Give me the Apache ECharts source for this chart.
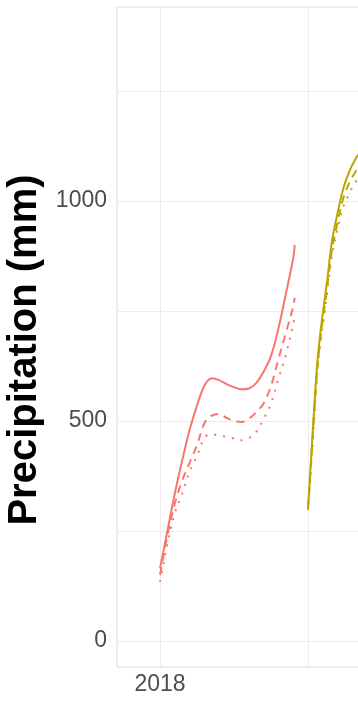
<!DOCTYPE html>
<html>
<head>
<meta charset="utf-8">
<style>
  html, body { margin: 0; padding: 0; background: #ffffff; }
  #chart { width: 358px; height: 707px; }
</style>
<script src="https://cdn.jsdelivr.net/npm/echarts@6/dist/echarts.min.js"></script>
</head>
<body>
<div id="chart"></div>
<script>
// ---- data ----
const x2018 = [2018.0, 2018.05, 2018.1, 2018.15, 2018.2, 2018.25, 2018.3, 2018.35, 2018.4, 2018.45,
               2018.5, 2018.55, 2018.6, 2018.65, 2018.7, 2018.75, 2018.8, 2018.85, 2018.9, 2018.91];
const solid2018  = [165, 250, 335, 410, 480, 535, 580, 597, 593, 584, 577, 572, 574, 586, 612, 648, 710, 788, 870, 900];
const dashed2018 = [150, 240, 312, 365, 405, 445, 495, 512, 516, 507, 500, 498, 505, 520, 540, 580, 640, 700, 760, 780];
const dotted2018 = [135, 220, 290, 335, 385, 420, 462, 470, 467, 464, 460, 456, 461, 475, 505, 540, 595, 650, 720, 735];

const x2019 = [2019.0, 2019.02, 2019.04, 2019.06, 2019.08, 2019.1, 2019.13, 2019.16, 2019.2, 2019.24, 2019.28, 2019.32, 2019.36, 2019.45];
const solid2019  = [302, 410, 520, 620, 690, 745, 820, 905, 973, 1030, 1068, 1095, 1115, 1150];
const dashed2019 = [300, 400, 508, 607, 677, 730, 805, 885, 952, 1008, 1042, 1066, 1086, 1120];
const dotted2019 = [298, 392, 497, 596, 666, 718, 793, 872, 938, 988, 1018, 1042, 1062, 1095];

const yTickLabels = [0, 500, 1000];
const yGridValues = [0, 250, 500, 750, 1000, 1250];
const xTickLabels = [2018];
const xGridValues = [2018, 2019, 2020];

const yTitle = 'Precipitation (mm)';

const RED = '#F8766D';
const YEL = '#BBA600';

function pairs(xs, ys) { return xs.map((x, i) => [x, ys[i]]); }

const chart = echarts.init(document.getElementById('chart'), null, { renderer: 'canvas' });

const pxPerYear = 148, pxPerUnit = 0.44;
const gridLeft = 117, gridTop = 7, gridH = 660, gridW = 400;
const xMin = 2018 - (160 - gridLeft) / pxPerYear;
const xMax = xMin + gridW / pxPerYear;
const yZeroPx = 641;
const yMin = -(gridTop + gridH - yZeroPx) / pxPerUnit;
const yMax = (yZeroPx - gridTop) / pxPerUnit;

function line(name, data, color, type, width) {
  return {
    name, type: 'line', data, smooth: 0.35, showSymbol: false, symbol: 'none',
    lineStyle: { color, width, type },
    itemStyle: { color },
    emphasis: { disabled: true }, silent: true, animation: false
  };
}

chart.setOption({
  animation: false,
  backgroundColor: '#ffffff',
  textStyle: { fontFamily: 'Liberation Sans, Arial, sans-serif' },
  grid: {
    left: gridLeft, top: gridTop, width: gridW, height: gridH,
    show: true, borderColor: '#dcdcdc', borderWidth: 1, backgroundColor: 'transparent',
    containLabel: false, outerBoundsMode: 'none'
  },
  xAxis: {
    type: 'value', min: xMin, max: xMax,
    axisLine: { show: false },
    axisTick: { show: false, customValues: xGridValues },
    axisLabel: {
      customValues: xTickLabels, color: '#4d4d4d', fontSize: 23, margin: 6,
      fontFamily: 'Liberation Sans, Arial, sans-serif',
      formatter: v => String(Math.round(v))
    },
    splitLine: { show: true, lineStyle: { color: '#ececec', width: 1 } }
  },
  yAxis: {
    type: 'value', min: yMin, max: yMax,
    name: yTitle, nameLocation: 'middle', nameGap: 72,
    nameTextStyle: {
      fontSize: 40, fontWeight: 'bold', color: '#000000',
      fontFamily: 'Liberation Sans, Arial, sans-serif',
      padding: [0, 26, 0, 0]
    },
    axisLine: { show: false },
    axisTick: { show: false, customValues: yGridValues },
    axisLabel: {
      customValues: yTickLabels, color: '#4d4d4d', fontSize: 23, margin: 10,
      fontFamily: 'Liberation Sans, Arial, sans-serif',
      formatter: v => String(Math.round(v))
    },
    splitLine: { show: true, lineStyle: { color: '#ececec', width: 1 } }
  },
  series: [
    line('2018 solid', pairs(x2018, solid2018), RED, 'solid', 2),
    line('2018 dashed', pairs(x2018, dashed2018), RED, [8, 6], 2),
    line('2018 dotted', pairs(x2018, dotted2018), RED, [2, 7], 2),
    line('2019 solid', pairs(x2019, solid2019), YEL, 'solid', 2),
    line('2019 dashed', pairs(x2019, dashed2019), YEL, [8, 6], 2),
    line('2019 dotted', pairs(x2019, dotted2019), YEL, [2, 7], 2)
  ]
});
</script>
</body>
</html>
